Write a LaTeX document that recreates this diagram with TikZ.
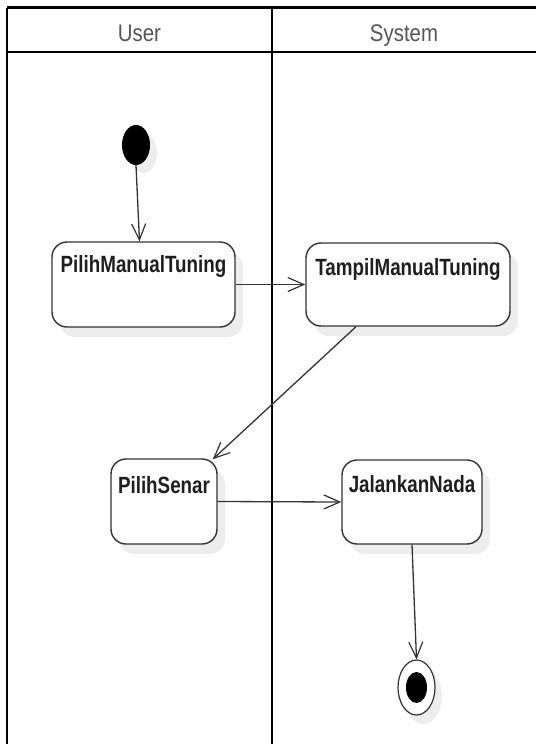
\documentclass[tikz,border=0pt]{standalone}
\usepackage{fontspec}
\setmainfont{Liberation Sans}
\usetikzlibrary{arrows.meta,shadows,shapes.geometric}

\definecolor{edgegray}{HTML}{333333}
\definecolor{shadegray}{HTML}{EDEDED}
\definecolor{headgray}{HTML}{555555}
\definecolor{inkgray}{HTML}{1E1E1E}

\tikzset{
  lane/.style={line width=2.6pt, black},
  lanehead/.style={anchor=base, font=\fontsize{24}{28}\selectfont, text=headgray},
  action/.style={draw=edgegray, line width=1.4pt, fill=white, rounded corners=15pt,
    inner sep=0pt,
    drop shadow={shadow xshift=8pt, shadow yshift=-10pt, fill=shadegray, opacity=1}},
  actlabel/.style={anchor=base, yshift=-33pt, inner sep=0pt, text=inkgray,
    font=\fontsize{23.5}{26}\selectfont\bfseries},
  startdot/.style={ellipse, fill=black, inner sep=0pt, minimum width=28pt, minimum height=40pt,
    drop shadow={shadow xshift=7pt, shadow yshift=-8pt, fill=shadegray, opacity=1}},
  endring/.style={ellipse, draw=edgegray, line width=1.2pt, fill=white, inner sep=0pt,
    minimum width=37pt, minimum height=55pt,
    drop shadow={shadow xshift=7pt, shadow yshift=-9pt, fill=shadegray, opacity=1}},
  enddot/.style={ellipse, fill=black, inner sep=0pt, minimum width=21pt, minimum height=31pt},
  flow/.style={draw=edgegray, line width=1.3pt, -{Straight Barb[length=16pt,width=14pt,line width=1.2pt]}},
}
\newcommand{\narrow}[1]{\scalebox{0.8}[1]{#1}}

\begin{document}
\begin{tikzpicture}[x=1pt,y=-1pt]
  \useasboundingbox (0,0) rectangle (536,744);

  % swimlane frame
  \draw[lane] (7,7.5) -- (536,7.5);
  \draw[lane] (7,52) -- (536,52);
  \draw[lane] (7,7.5) -- (7,744);
  \draw[lane] (272,7.5) -- (272,744);
  \node[lanehead] (hUser) at (139.5,41) {\scalebox{0.85}[1]{User}};
  \node[lanehead] (hSystem) at (404,41) {\scalebox{0.85}[1]{System}};

  % start node
  \node[startdot] (init) at (136,145) {};

  % actions
  \node[action, minimum width=183pt, minimum height=85pt] (pmt) at (143.5,284.5) {};
  \node[actlabel, yshift=2pt] (pmtL) at (pmt.north) {\narrow{PilihManualTuning}};

  \node[action, minimum width=204pt, minimum height=83pt] (tmt) at (408,284.5) {};
  \node[actlabel] (tmtL) at (tmt.north) {\narrow{TampilManualTuning}};

  \node[action, minimum width=106pt, minimum height=85pt] (ps) at (164,501.5) {};
  \node[actlabel, yshift=-2pt] (psL) at (ps.north) {\narrow{PilihSenar}};

  \node[action, minimum width=140pt, minimum height=84pt] (jn) at (412,502) {};
  \node[actlabel] (jnL) at (jn.north) {\narrow{JalankanNada}};

  % final node
  \node[endring] (final) at (416.5,687.5) {};
  \node[enddot] (finalDot) at (final.center) {};

  % control flow
  \draw[flow] (init.south) -- ([xshift=-4pt]pmt.north);
  \draw[flow] (pmt.east) -- (tmt.west);
  \draw[flow] ([xshift=-52pt]tmt.south) -- ([xshift=-5pt,yshift=-1pt]ps.north east);
  \draw[flow] (ps.east) -- (jn.west);
  \draw[flow] (jn.south) -- (final.north);
\end{tikzpicture}
\end{document}
